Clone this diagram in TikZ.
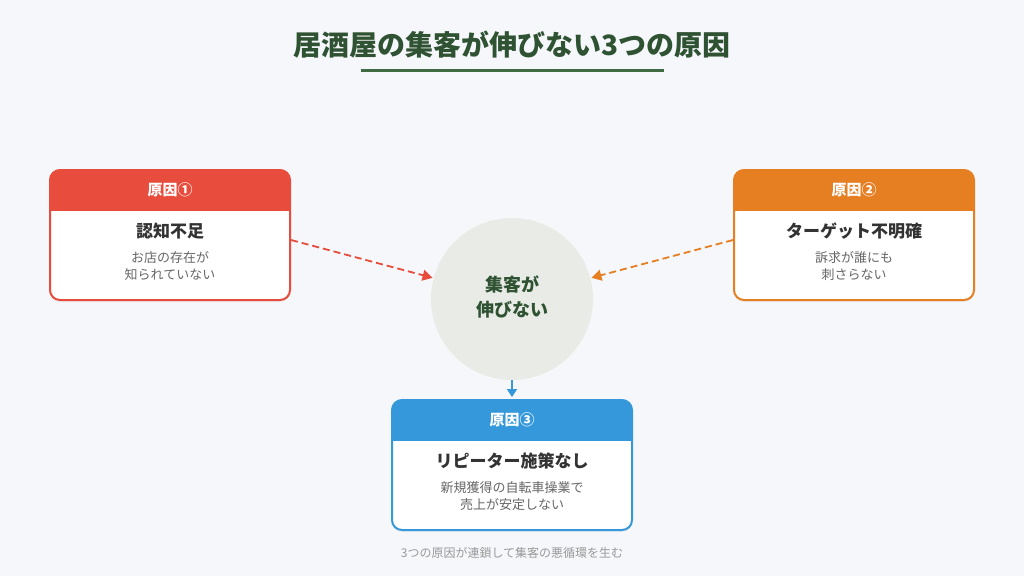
\documentclass[tikz,border=0pt]{standalone}
\usepackage{fontspec}
\setmainfont{Noto Sans CJK JP}
\usetikzlibrary{arrows.meta,shadows}
\definecolor{bgc}{HTML}{F5F7FA}
\definecolor{titlegreen}{HTML}{2F5233}
\definecolor{linegreen}{HTML}{3E6B41}
\definecolor{redc}{HTML}{E74C3C}
\definecolor{orangec}{HTML}{E67E22}
\definecolor{bluec}{HTML}{3498DB}
\definecolor{circfill}{HTML}{E8EBE6}
\definecolor{darktext}{HTML}{333333}
\definecolor{subtext}{HTML}{666666}
\definecolor{foottext}{HTML}{999999}
\tikzset{
  causebox/.style={draw=#1, line width=2pt, rounded corners=10pt, fill=white,
    minimum width=240pt, minimum height=130pt, inner sep=0pt,
    drop shadow={opacity=0.08, shadow xshift=0pt, shadow yshift=-2pt},
    path picture={\fill[#1, sharp corners] (path picture bounding box.north west) rectangle ([yshift=-41pt]path picture bounding box.north east);}},
  hdr/.style={text=white, font=\fontsize{15}{18}\selectfont\bfseries, inner sep=0pt},
  ttl/.style={text=darktext, font=\fontsize{17}{20}\selectfont\bfseries, inner sep=0pt},
  sub/.style={text=subtext, font=\fontsize{13}{17}\selectfont, align=center, inner sep=0pt},
  dasharrow/.style={line width=1.8pt, dash pattern=on 7pt off 4pt, -{Triangle[length=10pt,width=11pt]}, shorten >=1pt},
}
\begin{document}
\begin{tikzpicture}[x=1pt,y=-1pt]
\fill[bgc] (0,0) rectangle (1024,576);
\useasboundingbox (0,0) rectangle (1024,576);
% title
\node[text=titlegreen, font=\fontsize{28}{32}\selectfont\bfseries, inner sep=0pt] (title) at (512,45) {居酒屋の集客が伸びない3つの原因};
\draw[linegreen, line width=3pt] (361,70) -- (664,70);
% center circle
\node[circle, fill=circfill, minimum size=162pt, inner sep=0pt] (c) at (512,299) {};
\node[text=titlegreen, font=\fontsize{18}{25}\selectfont\bfseries, align=center, inner sep=0pt] (ctext) at (512,297) {集客が\\伸びない};
% box 1
\node[causebox=redc] (b1) at (170,235) {};
\node[hdr] (h1) at (170,190) {原因①};
\node[ttl] (t1) at (170,231) {認知不足};
\node[sub] (s1) at (170,266) {お店の存在が\\知られていない};
% box 2
\node[causebox=orangec] (b2) at (854,235) {};
\node[hdr] (h2) at (854,190) {原因②};
\node[ttl] (t2) at (854,231) {ターゲット不明確};
\node[sub] (s2) at (854,266) {訴求が誰にも\\刺さらない};
% box 3
\node[causebox=bluec] (b3) at (512,465) {};
\node[hdr] (h3) at (512,420) {原因③};
\node[ttl] (t3) at (512,461) {リピーター施策なし};
\node[sub] (s3) at (512,496) {新規獲得の自転車操業で\\売上が安定しない};
% arrows
\draw[dasharrow, redc] ([yshift=-5pt]b1.east) -- (c);
\draw[dasharrow, orangec] ([yshift=-5pt]b2.west) -- (c);
\draw[bluec, line width=1.8pt, -{Triangle[length=8pt,width=10pt]}] (c.south) -- ([yshift=2pt]b3.north);
% footer
\node[text=foottext, font=\fontsize{12}{14}\selectfont, inner sep=0pt] (foot) at (512,553) {3つの原因が連鎖して集客の悪循環を生む};
\end{tikzpicture}
\end{document}
